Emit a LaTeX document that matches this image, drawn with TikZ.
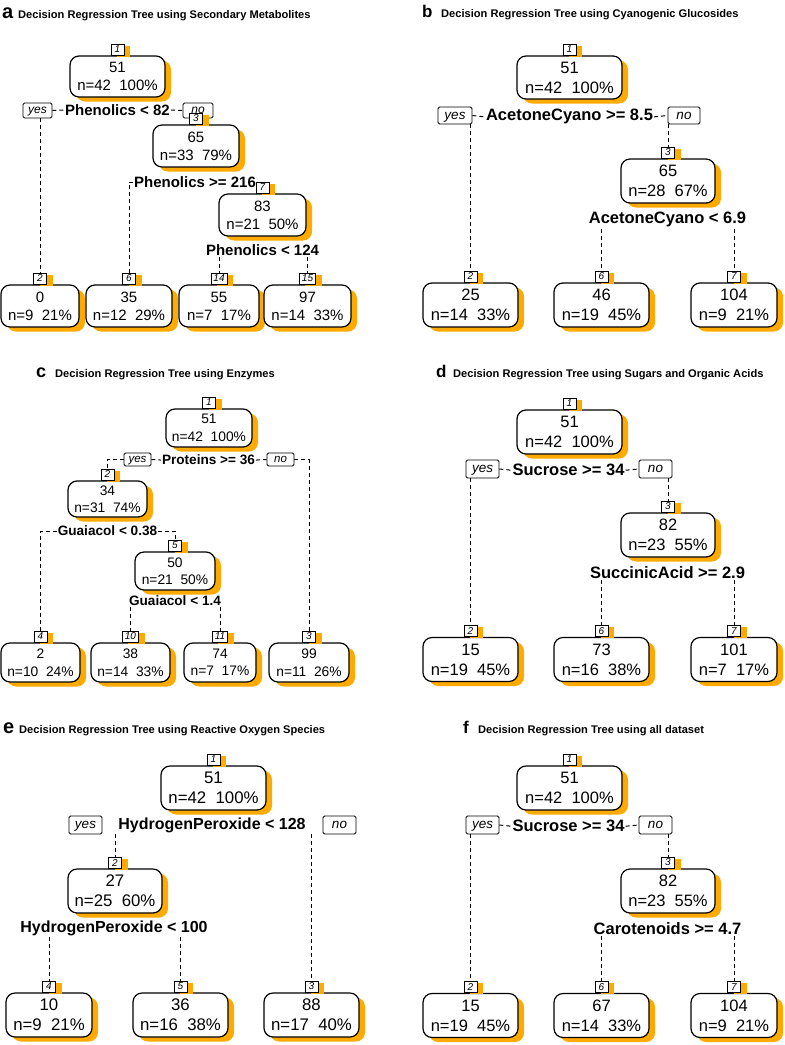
\documentclass[tikz,border=0pt]{standalone}
\usepackage{fontspec}
\setmainfont{Liberation Sans}
\usetikzlibrary{shadows}
\definecolor{shor}{RGB}{255,170,0}
\begin{document}
\begin{tikzpicture}[x=1pt,y=-1pt,
  orsh/.style={drop shadow={shadow xshift=6pt, shadow yshift=-4.5pt, fill=shor, opacity=1}},
  lsh/.style={drop shadow={shadow xshift=6pt, shadow yshift=-1.5pt, fill=shor, opacity=1}},
  tbox/.style={draw, line width=1.2pt, rounded corners=9pt, fill=white, align=center, inner sep=0pt, orsh},
  sz/.style 2 args={minimum width=#1pt, minimum height=#2pt},
  lbl/.style={draw, line width=0.8pt, fill=white, inner xsep=2.5pt, inner ysep=0pt, minimum width=13pt, minimum height=11pt, font=\fontsize{10}{10}\selectfont\itshape, anchor=south, lsh},
  yn/.style={draw, line width=0.8pt, rounded corners=1.5pt, fill=white, inner sep=0pt, text depth=0pt},
  cond/.style={inner sep=1pt, anchor=base},
  conn/.style={line width=1pt, dash pattern=on 4pt off 3pt},
  ttl/.style={anchor=base west, inner sep=0pt, font=\fontsize{11.1}{12}\selectfont\bfseries},
  plet/.style={anchor=base west, inner sep=0pt, font=\fontsize{#1}{#1}\selectfont\bfseries},
  bA/.style={tbox, font=\fontsize{15}{18}\selectfont},
  cA/.style={cond, font=\fontsize{15}{15}\selectfont\bfseries},
  yA/.style={yn, text height=6.2pt, font=\fontsize{12}{12}\selectfont\itshape},
  bB/.style={tbox, font=\fontsize{16.5}{20}\selectfont},
  cB/.style={cond, font=\fontsize{16.5}{16.5}\selectfont\bfseries},
  yB/.style={yn, text height=7pt, font=\fontsize{13.5}{13.5}\selectfont\itshape},
  bC/.style={tbox, font=\fontsize{13.8}{17.5}\selectfont},
  cC/.style={cond, font=\fontsize{13.6}{13.6}\selectfont\bfseries},
  yC/.style={yn, text height=6pt, font=\fontsize{11.5}{11.5}\selectfont\itshape},
  bE/.style={tbox, font=\fontsize{16.8}{20}\selectfont},
  cE/.style={cond, font=\fontsize{16}{16}\selectfont\bfseries},
]
\fill[white] (0,0) rectangle (785,1045);
\useasboundingbox (0,0) rectangle (785,1045);

% ---------------- panel a ----------------
\node[plet=20] (La) at (2,18) {a};
\node[ttl] (Ta) at (18,18) {Decision Regression Tree using Secondary Metabolites};
\node[bA, sz={95}{41}] (a1) at (117.5,76.5) {51\\n=42\ \ 100\%};
\node[lbl] (a1l) at (a1.north) {1};
\node[yA, sz={29}{15}] (ayes) at (37.5,110.5) {yes};
\node[cA] (ac1) at (117.5,115.4) {Phenolics < 82};
\node[yA, sz={30}{15}] (ano) at (198,110.5) {no};
\node[bA, sz={86}{42}] (a3) at (196,146) {65\\n=33\ \ 79\%};
\node[lbl] (a3l) at (a3.north) {3};
\node[cA] (ac2) at (195,187.4) {Phenolics >= 216};
\node[bA, sz={87}{42}] (a7) at (262.5,215) {83\\n=21\ \ 50\%};
\node[lbl] (a7l) at (a7.north) {7};
\node[cA] (ac3) at (262.5,255.4) {Phenolics < 124};
\node[bA, sz={78}{42}] (a2) at (40,306) {0\\n=9\ \ 21\%};
\node[lbl] (a2l) at (a2.north) {2};
\node[bA, sz={86}{42}] (a6) at (129,306) {35\\n=12\ \ 29\%};
\node[lbl] (a6l) at (a6.north) {6};
\node[bA, sz={80}{42}] (a14) at (219,306) {55\\n=7\ \ 17\%};
\node[lbl] (a14l) at (a14.north) {14};
\node[bA, sz={87}{42}] (a15) at (307.5,306) {97\\n=14\ \ 33\%};
\node[lbl] (a15l) at (a15.north) {15};
\draw[conn] (ayes.east) -- (ac1.west);
\draw[conn] (ac1.east) -- (ano.west);
\draw[conn] (ayes.south -| a2l.north) -- (a2l.north);
\draw[conn] (ac2.west) -| (a6l.north);
\draw[conn] (ac2.east) -| (a7l.north);
\draw[conn] (ac3.south -| a14l.north) -- (a14l.north);
\draw[conn] (ac3.south -| a15l.north) -- (a15l.north);

% ---------------- panel b ----------------
\node[plet=17] (Lb) at (422,17) {b};
\node[ttl] (Tb) at (441,17) {Decision Regression Tree using Cyanogenic Glucosides};
\node[bB, sz={105}{43}] (b1) at (569.5,77.5) {51\\n=42\ \ 100\%};
\node[lbl] (b1l) at (b1.north) {1};
\node[yB, sz={34}{17}] (byes) at (455,115.5) {yes};
\node[cB] (bc1) at (569.5,120.9) {AcetoneCyano >= 8.5};
\node[yB, sz={32}{17}] (bno) at (684,115.5) {no};
\node[bB, sz={94}{44}] (b3) at (668,181) {65\\n=28\ \ 67\%};
\node[lbl] (b3l) at (b3.north) {3};
\node[cB] (bc2) at (667.5,223.9) {AcetoneCyano < 6.9};
\node[bB, sz={95}{44}] (b2) at (470.5,305) {25\\n=14\ \ 33\%};
\node[lbl] (b2l) at (b2.north) {2};
\node[bB, sz={95}{44}] (b6) at (601.5,305) {46\\n=19\ \ 45\%};
\node[lbl] (b6l) at (b6.north) {6};
\node[bB, sz={86}{44}] (b7) at (734,305) {104\\n=9\ \ 21\%};
\node[lbl] (b7l) at (b7.north) {7};
\draw[conn] (byes.east) -- (bc1.west);
\draw[conn] (bc1.east) -- (bno.west);
\draw[conn] (byes.south -| b2l.north) -- (b2l.north);
\draw[conn] (bno.south -| b3l.north) -- (b3l.north);
\draw[conn] (bc2.south -| b6l.north) -- (b6l.north);
\draw[conn] (bc2.south -| b7l.north) -- (b7l.north);

% ---------------- panel c ----------------
\node[plet=18] (Lc) at (36,377) {c};
\node[ttl] (Tc) at (55,377) {Decision Regression Tree using Enzymes};
\node[bC, sz={86}{38}] (c1) at (209,428) {51\\n=42\ \ 100\%};
\node[lbl] (c1l) at (c1.north) {1};
\node[yC, sz={27}{13}] (cyes) at (137.5,459.5) {yes};
\node[cC] (cc1) at (208.5,464.9) {Proteins >= 36};
\node[yC, sz={27}{13}] (cno) at (280.5,459.5) {no};
\node[bC, sz={79}{36}] (c2) at (107.5,499) {34\\n=31\ \ 74\%};
\node[lbl] (c2l) at (c2.north) {2};
\node[cC] (cc2) at (107.5,535.9) {Guaiacol < 0.38};
\node[bC, sz={80}{38}] (c5) at (175,571) {50\\n=21\ \ 50\%};
\node[lbl] (c5l) at (c5.north) {5};
\node[cC] (cc3) at (175,605.9) {Guaiacol < 1.4};
\node[bC, sz={79}{39}] (c4) at (40.5,662.5) {2\\n=10\ \ 24\%};
\node[lbl] (c4l) at (c4.north) {4};
\node[bC, sz={79}{39}] (c10) at (130.5,662.5) {38\\n=14\ \ 33\%};
\node[lbl] (c10l) at (c10.north) {10};
\node[bC, sz={72}{39}] (c11) at (220,662.5) {74\\n=7\ \ 17\%};
\node[lbl] (c11l) at (c11.north) {11};
\node[bC, sz={80}{39}] (c3) at (309,662.5) {99\\n=11\ \ 26\%};
\node[lbl] (c3l) at (c3.north) {3};
\draw[conn] (cyes.east) -- (cc1.west);
\draw[conn] (cc1.east) -- (cno.west);
\draw[conn] (cyes.west) -| (c2l.north);
\draw[conn] (cno.east) -| (c3l.north);
\draw[conn] (cc2.west) -| (c4l.north);
\draw[conn] (cc2.east) -| (c5l.north);
\draw[conn] (cc3.south -| c10l.north) -- (c10l.north);
\draw[conn] (cc3.south -| c11l.north) -- (c11l.north);

% ---------------- panel d ----------------
\node[plet=17] (Ld) at (436,377) {d};
\node[ttl] (Td) at (453,377) {Decision Regression Tree using Sugars and Organic Acids};
\node[bB, sz={105}{44}] (d1) at (569.5,432) {51\\n=42\ \ 100\%};
\node[lbl] (d1l) at (d1.north) {1};
\node[yB, sz={33}{18}] (dyes) at (482.5,469) {yes};
\node[cB] (dc1) at (568.5,475.9) {Sucrose >= 34};
\node[yB, sz={33}{18}] (dno) at (655.5,469) {no};
\node[bB, sz={94}{44}] (d3) at (668,535) {82\\n=23\ \ 55\%};
\node[lbl] (d3l) at (d3.north) {3};
\node[cB] (dc2) at (667.5,578.9) {SuccinicAcid >= 2.9};
\node[bB, sz={95}{44}] (d2) at (470.5,659.5) {15\\n=19\ \ 45\%};
\node[lbl] (d2l) at (d2.north) {2};
\node[bB, sz={95}{44}] (d6) at (601.5,659.5) {73\\n=16\ \ 38\%};
\node[lbl] (d6l) at (d6.north) {6};
\node[bB, sz={86}{44}] (d7) at (734,659.5) {101\\n=7\ \ 17\%};
\node[lbl] (d7l) at (d7.north) {7};
\draw[conn] (dyes.east) -- (dc1.west);
\draw[conn] (dc1.east) -- (dno.west);
\draw[conn] (dyes.south -| d2l.north) -- (d2l.north);
\draw[conn] (dno.south -| d3l.north) -- (d3l.north);
\draw[conn] (dc2.south -| d6l.north) -- (d6l.north);
\draw[conn] (dc2.south -| d7l.north) -- (d7l.north);

% ---------------- panel e ----------------
\node[plet=20] (Le) at (3,733) {e};
\node[ttl] (Te) at (19,733) {Decision Regression Tree using Reactive Oxygen Species};
\node[bE, sz={105}{44}] (e1) at (213.5,788) {51\\n=42\ \ 100\%};
\node[lbl] (e1l) at (e1.north) {1};
\node[yB, sz={33}{18}] (eyes) at (85.5,825) {yes};
\node[cE] (ec1) at (212,829.8) {HydrogenPeroxide < 128};
\node[yB, sz={33}{18}] (eno) at (339.5,825) {no};
\node[bE, sz={94}{44}] (e2) at (115,891) {27\\n=25\ \ 60\%};
\node[lbl] (e2l) at (e2.north) {2};
\node[cE] (ec2) at (114,932.8) {HydrogenPeroxide < 100};
\node[bE, sz={86}{44}] (e4) at (49,1015) {10\\n=9\ \ 21\%};
\node[lbl] (e4l) at (e4.north) {4};
\node[bE, sz={95}{44}] (e5) at (180.5,1015) {36\\n=16\ \ 38\%};
\node[lbl] (e5l) at (e5.north) {5};
\node[bE, sz={95}{44}] (e3) at (311.5,1015) {88\\n=17\ \ 40\%};
\node[lbl] (e3l) at (e3.north) {3};
\draw[conn] (ec1.south -| e2l.north) -- (e2l.north);
\draw[conn] (ec1.south -| e3l.north) -- (e3l.north);
\draw[conn] (ec2.south -| e4l.north) -- (e4l.north);
\draw[conn] (ec2.south -| e5l.north) -- (e5l.north);

% ---------------- panel f ----------------
\node[plet=17] (Lf) at (463,733) {f};
\node[ttl] (Tf) at (478,733) {Decision Regression Tree using all dataset};
\node[bB, sz={105}{44}] (f1) at (569.5,788) {51\\n=42\ \ 100\%};
\node[lbl] (f1l) at (f1.north) {1};
\node[yB, sz={33}{18}] (fyes) at (482.5,825) {yes};
\node[cB] (fc1) at (568.5,831.9) {Sucrose >= 34};
\node[yB, sz={33}{18}] (fno) at (655.5,825) {no};
\node[bB, sz={94}{44}] (f3) at (668,891) {82\\n=23\ \ 55\%};
\node[lbl] (f3l) at (f3.north) {3};
\node[cB] (fc2) at (667.5,934.9) {Carotenoids >= 4.7};
\node[bB, sz={95}{44}] (f2) at (470.5,1015.5) {15\\n=19\ \ 45\%};
\node[lbl] (f2l) at (f2.north) {2};
\node[bB, sz={95}{44}] (f6) at (601.5,1015.5) {67\\n=14\ \ 33\%};
\node[lbl] (f6l) at (f6.north) {6};
\node[bB, sz={86}{44}] (f7) at (734,1015.5) {104\\n=9\ \ 21\%};
\node[lbl] (f7l) at (f7.north) {7};
\draw[conn] (fyes.east) -- (fc1.west);
\draw[conn] (fc1.east) -- (fno.west);
\draw[conn] (fyes.south -| f2l.north) -- (f2l.north);
\draw[conn] (fno.south -| f3l.north) -- (f3l.north);
\draw[conn] (fc2.south -| f6l.north) -- (f6l.north);
\draw[conn] (fc2.south -| f7l.north) -- (f7l.north);
\end{tikzpicture}
\end{document}
